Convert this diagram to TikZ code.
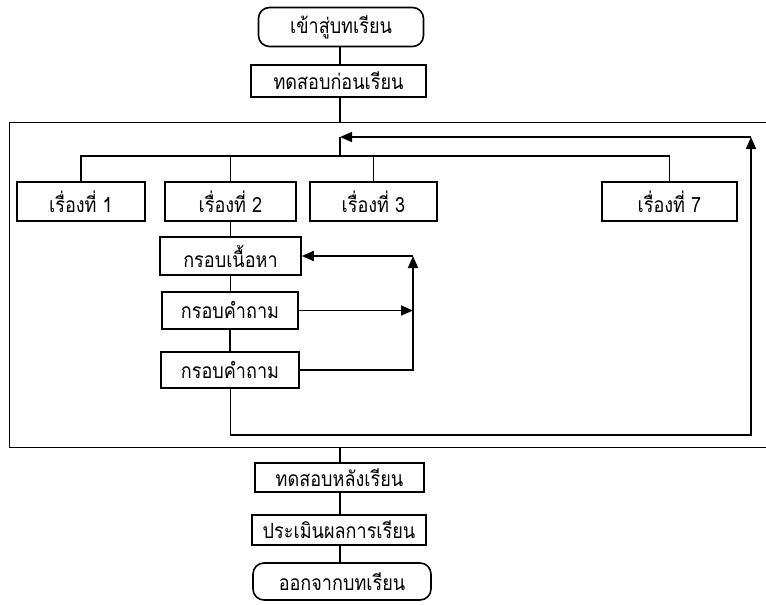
\documentclass[tikz,border=0pt]{standalone}
\usepackage{fontspec}
\newfontfamily\thaifont[Script=Thai,FakeStretch=0.86]{Loma}
\usetikzlibrary{arrows.meta}
\begin{document}
\begin{tikzpicture}[x=1pt,y=-1pt,line width=1.6pt,>={Triangle[length=12pt,width=10pt]},
    box/.style={draw,rectangle,inner sep=0pt,font=\thaifont\fontsize{21}{25}\selectfont},
    term/.style={box,rounded corners=11pt}]
    \useasboundingbox (0,0) rectangle (766,605);
    % start and pre-test
    \node[term,minimum width=165pt,minimum height=39pt] (start) at (341,27) {เข้าสู่บทเรียน};
    \node[box,minimum width=175pt,minimum height=32pt] (pre) at (338.5,81) {ทดสอบก่อนเรียน};
    \coordinate (ftop) at (340,122.5);
    \coordinate (fbot) at (340,447.5);
    \draw (start.south -| ftop) -- (pre.north -| ftop);
    \draw (pre.south -| ftop) -- (ftop);
    % the lesson frame, open on the right
    \draw (766,122.5) -- (9.5,122.5) -- (9.5,447.5) -- (766,447.5);
    % topics
    \node[box,minimum width=128pt,minimum height=39pt] (t1) at (81,201.5) {เรื่องที่ 1};
    \node[box,minimum width=131pt,minimum height=39pt] (t2) at (230.5,201.5) {เรื่องที่ 2};
    \node[box,minimum width=127pt,minimum height=39pt] (t3) at (373.5,201.5) {เรื่องที่ 3};
    \node[box,minimum width=135pt,minimum height=39pt] (t7) at (669.5,201.5) {เรื่องที่ 7};
    \coordinate (bus) at (340,156);
    \coordinate (back) at (340,137);
    \coordinate (rtop) at (751,137);
    \coordinate (rbot) at (751,435);
    \draw (t1.north) |- (bus) -| (t7.north);
    \draw (t2.north) -- (t2.north |- bus);
    \draw (t3.north) -- (t3.north |- bus);
    \draw[->] (rtop) -- (back);
    \draw (back) -- (bus);
    % frames of topic 2
    \node[box,minimum width=141pt,minimum height=38pt] (content) at (230.5,256) {กรอบเนื้อหา};
    \node[box,minimum width=136pt,minimum height=37pt] (q1) at (230,310.5) {กรอบคำถาม};
    \node[box,minimum width=138pt,minimum height=36pt] (q2) at (230,370) {กรอบคำถาม};
    \coordinate (jtop) at (413,256);
    \draw (t2.south) -- (t2.south |- content.north);
    \draw (content.south) -- (content.south |- q1.north);
    \draw (q1.south) -- (q1.south |- q2.north);
    \draw[->] (q1.east) -- (q1.east -| jtop);
    \draw[->] (q2.east) -| (jtop);
    \draw[->] (jtop) -- (content.east);
    \draw[->] (q2.south -| t2.south) |- (rbot) -- (rtop);
    % post-test and exit
    \node[box,minimum width=169pt,minimum height=29pt] (post) at (339.5,477.5) {ทดสอบหลังเรียน};
    \node[box,minimum width=174pt,minimum height=30pt] (eval) at (339,530) {ประเมินผลการเรียน};
    \node[term,minimum width=178pt,minimum height=37pt] (exit) at (342,581.5) {ออกจากบทเรียน};
    \draw (fbot) -- (post.north -| fbot);
    \draw (post.south -| fbot) -- (eval.north -| fbot);
    \draw (eval.south -| fbot) -- (exit.north -| fbot);
\end{tikzpicture}
\end{document}
